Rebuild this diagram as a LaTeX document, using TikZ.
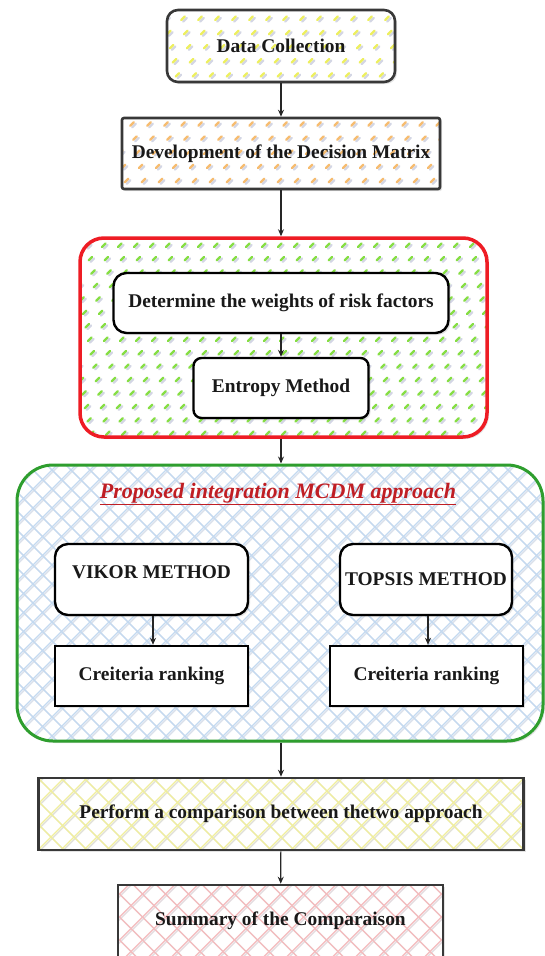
\documentclass[tikz,border=0pt]{standalone}
\usepackage{fontspec}
\setmainfont{Liberation Serif}
\usetikzlibrary{shadows,arrows.meta}
\definecolor{dshadow}{HTML}{D3D6E4}
\definecolor{dyellow}{HTML}{EDEF5E}
\definecolor{dorange}{HTML}{F6BC70}
\definecolor{dgreen}{HTML}{86DE44}
\definecolor{hblue}{HTML}{C3D9F0}
\definecolor{hblueS}{HTML}{DCE2EC}
\definecolor{hyellow}{HTML}{F0EE9C}
\definecolor{hyellowS}{HTML}{E2E2DA}
\definecolor{hpink}{HTML}{F4BCBE}
\definecolor{hpinkS}{HTML}{E4DCE0}
\definecolor{redline}{HTML}{EE1C24}
\definecolor{greenline}{HTML}{2E9E2E}
\definecolor{titlered}{HTML}{C01E24}
\definecolor{edge}{HTML}{383838}
\newcommand\boxfont{\bfseries\fontsize{19.4}{22}\selectfont}
\newcommand\mydashes[3]{%
 \begin{scope}[shift={(path picture bounding box.center)}]
 \foreach \k in {-32,...,32}{%
   \draw[line width=2.3pt, line cap=round, color=dshadow, dash pattern=on 5pt off #3] (\k*#2-420pt+2pt,-420pt-1.5pt) -- ++(840pt,840pt);
 }
 \foreach \k in {-32,...,32}{%
   \draw[line width=2.3pt, line cap=round, color=#1, dash pattern=on 5pt off #3] (\k*#2-420pt,-420pt) -- ++(840pt,840pt);
 }
 \end{scope}}
\newcommand\myhatch[3]{%
 \begin{scope}[shift={(path picture bounding box.center)}]
 \foreach \k in {-40,...,40}{%
   \draw[line width=1.3pt, color=#2] (\k*#3-420pt+1.3pt,-420pt-1.3pt) -- ++(840pt,840pt);
   \draw[line width=1.3pt, color=#2] (\k*#3+420pt+1.3pt,-420pt-1.3pt) -- ++(-840pt,840pt);
 }
 \foreach \k in {-40,...,40}{%
   \draw[line width=1.3pt, color=#1] (\k*#3-420pt,-420pt) -- ++(840pt,840pt);
   \draw[line width=1.3pt, color=#1] (\k*#3+420pt,-420pt) -- ++(-840pt,840pt);
 }
 \end{scope}}
\tikzset{
  shadowed/.style={drop shadow={opacity=0.22, shadow xshift=2pt, shadow yshift=-2pt}},
  outerbox/.style={draw=edge, line width=2.6pt, fill=white, inner sep=0pt, font=\boxfont, text=black!90, shadowed},
  innerbox/.style={draw=black, line width=2.4pt, fill=white, inner sep=0pt, font=\boxfont, text=black!90, shadowed},
  arr/.style={-{Stealth[length=7pt,width=6pt]}, line width=1.2pt, draw=black!85},
}
\begin{document}
\begin{tikzpicture}[x=1pt,y=-1pt]
\useasboundingbox (0,0) rectangle (545,956);
\clip (0,0) rectangle (545,956);

% top boxes
\node[outerbox, rounded corners=11pt, minimum width=228pt, minimum height=72pt,
      path picture={\mydashes{dyellow}{17pt}{15pt}}] (dc) at (281,46) {Data Collection};
\node[outerbox, rounded corners=2pt, minimum width=318pt, minimum height=71pt,
      path picture={\mydashes{dorange}{17pt}{15pt}}] (dev) at (281,153.5) {Development of the Decision Matrix};

% red group
\node[draw=redline, line width=3.5pt, rounded corners=24pt, fill=white, inner sep=0pt,
      minimum width=407pt, minimum height=199pt, shadowed,
      path picture={\mydashes{dgreen}{16pt}{14pt}}] (red) at (283.5,337.5) {};
\node[innerbox, rounded corners=13pt, minimum width=335pt, minimum height=60pt] (det) at (281,303) {Determine the weights of risk factors};
\node[innerbox, rounded corners=8pt, minimum width=175pt, minimum height=60pt] (ent) at (281,388) {Entropy Method};

% green group
\node[draw=greenline, line width=3pt, rounded corners=36pt, fill=white, inner sep=0pt,
      minimum width=526pt, minimum height=276pt, shadowed,
      path picture={\myhatch{hblue}{hblueS}{19pt}}] (grn) at (280,603) {};
\node[font=\bfseries\itshape\fontsize{22}{26}\selectfont, text=titlered, inner sep=0pt] (ttl) at (278,494) {\underline{Proposed integration MCDM approach}};
\node[innerbox, rounded corners=13pt, minimum width=193pt, minimum height=71pt, text depth=14pt] (vik) at (151.5,579.5) {VIKOR METHOD};
\node[innerbox, rounded corners=13pt, minimum width=172pt, minimum height=71pt] (top) at (426,579.5) {TOPSIS METHOD};
\node[innerbox, minimum width=193pt, minimum height=60pt] (cr1) at (151.5,676) {Creiteria ranking};
\node[innerbox, minimum width=193pt, minimum height=60pt] (cr2) at (426.5,676) {Creiteria ranking};

% bottom boxes
\node[outerbox, minimum width=485pt, minimum height=72pt,
      path picture={\myhatch{hyellow}{hyellowS}{23pt}}] (cmp) at (281,814) {};
\node[font=\boxfont, text=black!90] (cmpt) at (cmp.center) {Perform a comparison between thetwo approach};
\node[outerbox, minimum width=325pt, minimum height=110pt,
      path picture={\myhatch{hpink}{hpinkS}{23pt}}] (sum) at (280.5,940) {};
\node[font=\boxfont, text=black!90] (sumt) at (280.5,921) {Summary of the Comparaison};

% connectors
\draw[arr] (dc) -- (dev);
\draw[arr] (dev.south) -- (dev.south |- red.north);
\draw[arr] (det) -- (ent);
\draw[arr] (red.south -| det.south) -- (grn.north -| det.south);
\draw[arr] (vik.south -| 153,0) -- (cr1.north -| 153,0);
\draw[arr] (top.south -| 428,0) -- (cr2.north -| 428,0);
\draw[arr] (grn.south -| cmp.north) -- (cmp.north);
\draw[arr] (cmp) -- (sum);
\end{tikzpicture}
\end{document}
